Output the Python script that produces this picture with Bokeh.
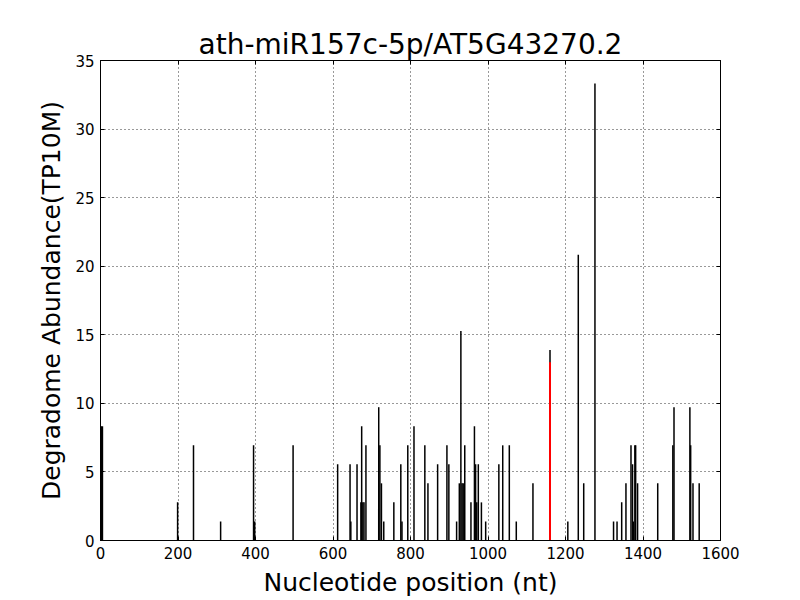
from bokeh.plotting import figure
from bokeh.models import LinearAxis, Range1d, FixedTicker
from bokeh.embed import file_html
from bokeh.resources import INLINE

title_text = "ath-miR157c-5p/AT5G43270.2"
x_label = "Nucleotide position (nt)"
y_label = "Degradome Abundance(TP10M)"

positions = [2, 5, 199, 240, 310, 395, 398, 497, 612, 644, 646, 662, 672, 674, 677, 680,
             685, 718, 721, 725, 731, 757, 775, 778, 793, 809, 837, 845, 870, 894, 899,
             919, 926, 930, 933, 936, 940, 956, 965, 968, 971, 975, 983, 994, 1028, 1038,
             1055, 1073, 1116, 1160, 1206, 1233, 1247, 1276, 1324, 1333, 1345, 1356, 1369,
             1373, 1375, 1379, 1381, 1386, 1438, 1477, 1480, 1521, 1523, 1529, 1545]
abundance = [8.33, 8.33, 2.78, 6.94, 1.39, 6.94, 1.39, 6.94, 5.56, 5.56, 1.39, 5.56, 2.78, 8.33, 2.78, 2.78,
             6.94, 9.72, 6.94, 4.17, 1.39, 2.78, 5.56, 1.39, 6.94, 8.33, 6.94, 4.17, 5.56, 6.94, 5.56,
             1.39, 4.17, 15.28, 4.17, 4.17, 6.94, 2.78, 8.33, 5.56, 2.78, 5.56, 2.78, 1.39, 5.56, 6.94,
             6.94, 1.39, 4.17, 13.89, 1.39, 20.83, 4.17, 33.33, 1.39, 1.39, 2.78, 4.17, 6.94,
             5.56, 1.39, 6.94, 6.94, 4.17, 4.17, 6.94, 9.72, 9.72, 6.94, 4.17, 4.17]

target_pos = [1160]
target_val = [13.0]

x_ticks = [0, 200, 400, 600, 800, 1000, 1200, 1400, 1600]
y_ticks = [0, 5, 10, 15, 20, 25, 30, 35]

p = figure(width=800, height=600, output_backend="svg", toolbar_location=None,
           x_range=Range1d(0, 1600), y_range=Range1d(0, 35),
           min_border_left=100, min_border_right=80, min_border_top=60, min_border_bottom=60,
           x_axis_label=x_label, y_axis_label=y_label)

p.title.text = title_text
p.title.text_font = "DejaVu Sans"
p.title.text_font_size = "28px"
p.title.text_font_style = "normal"
p.title.text_color = "black"
p.title.align = "center"
p.title.offset = 0
p.title.standoff = 0

p.outline_line_color = "black"
p.outline_line_width = 1
p.background_fill_color = "white"
p.border_fill_color = "white"

for ax, ticks in ((p.xaxis[0], x_ticks), (p.yaxis[0], y_ticks)):
    ax.ticker = FixedTicker(ticks=ticks)
    ax.major_tick_in = 4
    ax.major_tick_out = 0
    ax.minor_tick_line_color = None
    ax.axis_line_color = "black"
    ax.major_tick_line_color = "black"
    ax.major_label_text_font = "DejaVu Sans"
    ax.major_label_text_font_size = "15px"
    ax.major_label_text_color = "black"
    ax.axis_label_text_font = "DejaVu Sans"
    ax.axis_label_text_font_size = "25px"
    ax.axis_label_text_font_style = "normal"
    ax.axis_label_text_color = "black"
    ax.major_label_standoff = 6

p.xaxis[0].axis_label_standoff = 6
p.yaxis[0].axis_label_standoff = 6

# top / right axes with inward ticks only (no labels)
top_ax = LinearAxis(ticker=FixedTicker(ticks=x_ticks), major_tick_in=4, major_tick_out=0,
                    minor_tick_line_color=None, major_label_standoff=0,
                    major_label_overrides={t: "" for t in x_ticks},
                    axis_line_color="black")
right_ax = LinearAxis(ticker=FixedTicker(ticks=y_ticks), major_tick_in=4, major_tick_out=0,
                      minor_tick_line_color=None, major_label_standoff=0,
                      major_label_overrides={t: "" for t in y_ticks},
                      axis_line_color="black")
p.add_layout(top_ax, "above")
p.add_layout(right_ax, "right")

for g, ticks in ((p.xgrid[0], x_ticks), (p.ygrid[0], y_ticks)):
    g.ticker = FixedTicker(ticks=ticks)
    g.grid_line_color = "black"
    g.grid_line_dash = "1 3"
    g.grid_line_width = 1
    g.grid_line_alpha = 0.8

p.segment(x0=positions, y0=[0] * len(positions), x1=positions, y1=abundance,
          line_color="black", line_width=1.5)
p.segment(x0=target_pos, y0=[0], x1=target_pos, y1=target_val,
          line_color="red", line_width=2)

open("out.html", "w").write(file_html(p, INLINE))
